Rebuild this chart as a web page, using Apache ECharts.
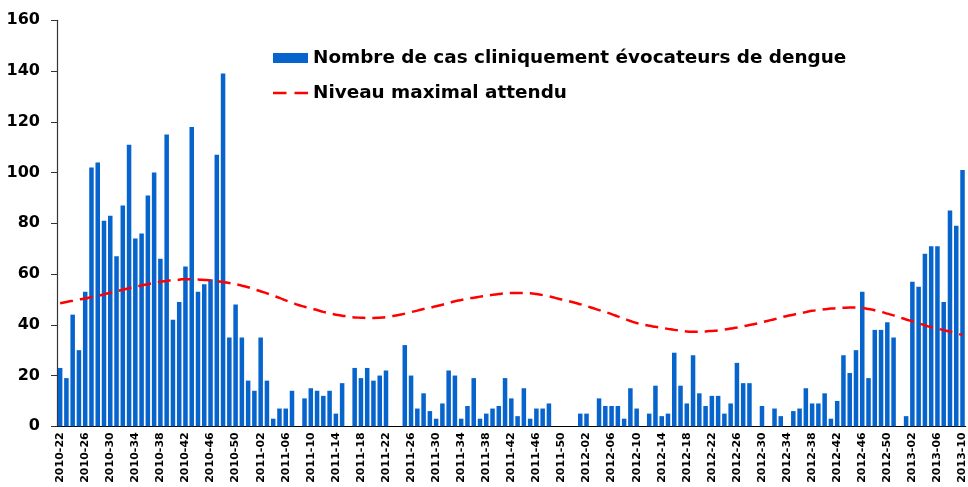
<!DOCTYPE html>
<html>
<head>
<meta charset="utf-8">
<script src="https://cdn.jsdelivr.net/npm/echarts@6/dist/echarts.min.js"></script>
<style>
  html, body { margin: 0; padding: 0; background: #ffffff; }
  #main { width: 968px; height: 487px; }
</style>
</head>
<body>
<div id="main"></div>
<script>
// semaines 2010-22 .. 2013-10
var weeks = [];
(function () {
  var spans = [[2010, 22, 52], [2011, 1, 52], [2012, 1, 52], [2013, 1, 10]];
  spans.forEach(function (s) {
    for (var w = s[1]; w <= s[2]; w++) {
      weeks.push(s[0] + "-" + (w < 10 ? "0" + w : w));
    }
  });
})();

// nombre de cas cliniquement évocateurs
var cas2010 = [23, 19, 44, 30, 53, 102, 104, 81, 83, 67, 87, 111, 74, 76, 91, 100,
  66, 115, 42, 49, 63, 118, 53, 56, 58, 107, 139, 35, 48, 35, 18];
var cas2011 = [14, 35, 18, 3, 7, 7, 14, 0, 11, 15, 14, 12, 14, 5, 17, 0, 23, 19, 23,
  18, 20, 22, 0, 0, 32, 20, 7, 13, 6, 3, 9, 22, 20, 3, 8, 19, 3, 5, 7, 8, 19, 11, 4,
  15, 3, 7, 7, 9, 0, 0, 0, 0];
var cas2012 = [5, 5, 0, 11, 8, 8, 8, 3, 15, 7, 0, 5, 16, 4, 5, 29, 16, 9, 28, 13, 8,
  12, 12, 5, 9, 25, 17, 17, 0, 8, 0, 7, 4, 0, 6, 7, 15, 9, 9, 13, 3, 10, 28, 21, 30,
  53, 19, 38, 38, 41, 35, 0];
var cas2013 = [4, 57, 55, 68, 71, 71, 49, 85, 79, 101];
var cas = cas2010.concat(cas2011, cas2012, cas2013);

// niveau maximal attendu (courbe lue semaine par semaine)
var niveau = [
  48.5, 49.0, 49.5, 50.0, 50.4, 50.9, 51.4, 52.0, 52.6, 53.2, 53.8, 54.4, 55.0,
  55.5, 56.0, 56.5, 57.0, 57.3, 57.6, 57.8, 58.0, 58.0, 57.9, 57.7, 57.5,
  57.2, 56.9, 56.5, 56.0, 55.4, 54.8, 54.0, 53.2, 52.4, 51.5, 50.6, 49.6, 48.7, 47.8,
  47.1, 46.4, 45.8, 45.1, 44.5, 44.0, 43.6, 43.2, 42.9, 42.8, 42.7, 42.7, 42.8, 43.0,
  43.4, 43.9, 44.4, 45.0, 45.6, 46.2, 46.8, 47.3, 47.9, 48.6, 49.3,
  49.8, 50.3, 50.7, 51.1, 51.5, 51.8, 52.1, 52.4, 52.5, 52.5, 52.5, 52.4,
  52.1, 51.7, 51.2, 50.6, 50.0, 49.4, 48.8, 48.1, 47.4, 46.6, 45.8, 45.0, 44.2,
  43.3, 42.4, 41.5, 40.7, 40.1, 39.6, 39.2, 38.8, 38.4, 38.0, 37.7, 37.4,
  37.3, 37.3, 37.4, 37.6, 37.8, 38.1, 38.5, 38.9, 39.4, 39.9, 40.4, 41.0,
  41.6, 42.2, 42.9, 43.5, 44.0, 44.5, 45.0, 45.5, 45.8, 46.1, 46.4, 46.6,
  46.7, 46.8, 46.8, 46.6, 46.2, 45.7, 45.1, 44.4, 43.7, 42.9,
  42.1, 41.4, 40.6, 39.8, 39.1, 38.5, 37.9, 37.3, 36.6, 36.0
];

var yTicks = [0, 20, 40, 60, 80, 100, 120, 140, 160];

var font = "DejaVu Sans";
// icône "— —" de la légende (les deux petits carrés fixent la boîte 35x10)
var dashIcon = "path://M0,0H0.01V0.01H0Z M34.99,9.99H35V10H34.99Z M0,3.8H13.5V6.3H0Z M21.5,3.8H35V6.3H21.5Z";

var chart = echarts.init(document.getElementById("main"));

var option = {
  backgroundColor: "#ffffff",
  animation: false,
  grid: { left: 57, top: 20.3, bottom: 60.7, width: 912 },
  legend: {
    orient: "vertical",
    left: 273,
    top: 48,
    padding: 0,
    itemWidth: 35,
    itemHeight: 10,
    itemGap: 15,
    textStyle: { fontFamily: font, fontWeight: "bold", fontSize: 18.4, color: "#000", lineHeight: 20 },
    data: [
      { name: "Nombre de cas cliniquement évocateurs de dengue", icon: "rect" },
      { name: "Niveau maximal attendu", icon: dashIcon, itemStyle: { color: "#ff0000" } }
    ]
  },
  xAxis: [
    {
      type: "category",
      data: weeks,
      boundaryGap: true,
      axisLine: { lineStyle: { color: "#000", width: 1.2 } },
      axisTick: { interval: 0, length: 4, lineStyle: { color: "#000" } },
      axisLabel: {
        interval: 3,
        rotate: 90,
        margin: 6,
        fontFamily: font,
        fontWeight: "bold",
        fontSize: 11,
        color: "#000"
      }
    },
    {
      // petites graduations qui traversent l'axe
      type: "category",
      data: weeks,
      position: "bottom",
      boundaryGap: true,
      axisLine: { show: false },
      axisTick: { inside: true, interval: 0, length: 4, lineStyle: { color: "#888" } },
      axisLabel: { show: false }
    }
  ],
  yAxis: {
    type: "value",
    min: yTicks[0],
    max: yTicks[yTicks.length - 1],
    interval: 20,
    splitLine: { show: false },
    axisLine: { show: true, lineStyle: { color: "#333", width: 1.2 } },
    axisTick: { show: true, length: 6, lineStyle: { color: "#333" } },
    axisLabel: {
      margin: 17,
      fontFamily: font,
      fontWeight: "bold",
      fontSize: 16,
      color: "#000"
    }
  },
  series: [
    {
      name: "Nombre de cas cliniquement évocateurs de dengue",
      type: "bar",
      data: cas,
      barWidth: "72%",
      itemStyle: { color: "#0664cc" }
    },
    {
      name: "Niveau maximal attendu",
      type: "line",
      data: niveau,
      symbol: "none",
      smooth: true,
      itemStyle: { color: "#ff0000" },
      lineStyle: { color: "#ff0000", width: 2.5, type: [13, 7] },
      z: 3
    }
  ]
};

chart.setOption(option);
</script>
</body>
</html>
